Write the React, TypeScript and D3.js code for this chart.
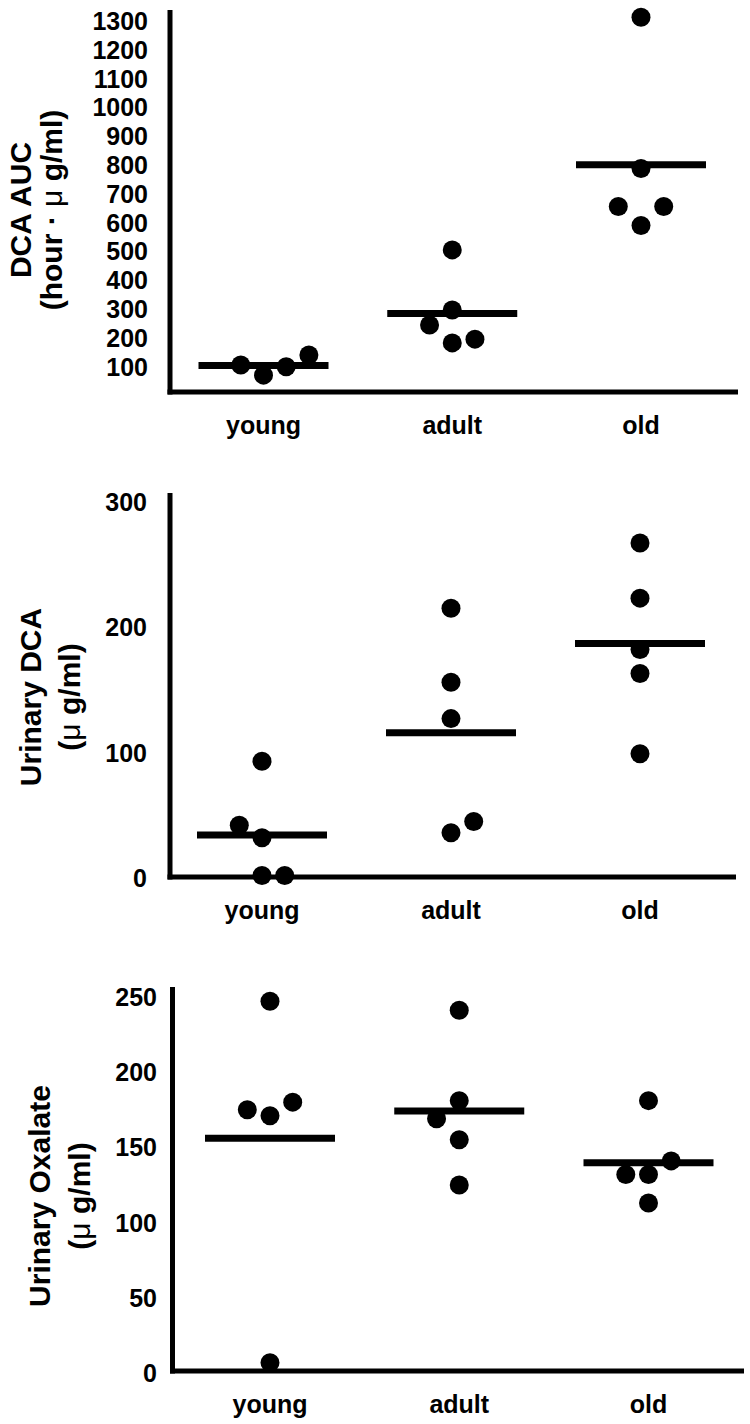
import React from "react";
import * as d3 from "d3";

const groups = ["young", "adult", "old"];

// Panel 1: DCA AUC (hour·µg/ml)
const aucTicks = [100, 200, 300, 400, 500, 600, 700, 800, 900, 1000, 1100, 1200, 1300];
const aucYoung = [105, 70, 99, 140];
const aucAdult = [505, 296, 244, 182, 195];
const aucOld = [1313, 788, 656, 656, 590];
const aucYoungSlot = [-1, 0, 1, 2];
const aucAdultSlot = [0, 0, -1, 0, 1];
const aucOldSlot = [0, 0, -1, 1, 0];

// Panel 2: Urinary DCA (µg/ml)
const dcaTicks = [0, 100, 200, 300];
const dcaYoung = [93, 42, 32, 2, 2];
const dcaAdult = [215, 156, 127, 36, 45];
const dcaOld = [267, 223, 182, 163, 99];
const dcaYoungSlot = [0, -1, 0, 0, 1];
const dcaAdultSlot = [0, 0, 0, 0, 1];
const dcaOldSlot = [0, 0, 0, 0, 0];

// Panel 3: Urinary Oxalate (µg/ml)
const oxTicks = [0, 50, 100, 150, 200, 250];
const oxYoung = [247, 175, 171, 180, 7];
const oxAdult = [241, 181, 169, 155, 125];
const oxOld = [181, 141, 132, 132, 113];
const oxYoungSlot = [0, -1, 0, 1, 0];
const oxAdultSlot = [0, 0, -1, 0, 0];
const oxOldSlot = [0, 1, -1, 0, 0];

const FONT = "'Liberation Sans', Arial, Helvetica, sans-serif";

type Panel = {
  title1: string;
  title2: React.ReactNode;
  ticks: number[];
  values: number[][];
  slots: number[][];
  domain: [number, number];
  range: [number, number];
  axisX: number;
  axisTop: number;
  axisBottom: number;
  axisRight: number;
  tickRight: number;
  centers: [number, number];
  t1x: number;
  t2x: number;
  tcy: number;
};

const mu = <tspan fontWeight="normal">μ</tspan>;

const panels: Panel[] = [
  {
    title1: "DCA AUC",
    title2: <>(hour · {mu} g/ml)</>,
    ticks: aucTicks,
    values: [aucYoung, aucAdult, aucOld],
    slots: [aucYoungSlot, aucAdultSlot, aucOldSlot],
    domain: [100, 1300],
    range: [366.5, 21],
    axisX: 170,
    axisTop: 10,
    axisBottom: 392,
    axisRight: 738,
    tickRight: 148,
    centers: [263.5, 641],
    t1x: 31,
    t2x: 62,
    tcy: 210,
  },
  {
    title1: "Urinary DCA",
    title2: <>({mu} g/ml)</>,
    ticks: dcaTicks,
    values: [dcaYoung, dcaAdult, dcaOld],
    slots: [dcaYoungSlot, dcaAdultSlot, dcaOldSlot],
    domain: [0, 300],
    range: [878, 501.5],
    axisX: 170,
    axisTop: 493,
    axisBottom: 877,
    axisRight: 736,
    tickRight: 147,
    centers: [262, 640],
    t1x: 41,
    t2x: 80,
    tcy: 697,
  },
  {
    title1: "Urinary Oxalate",
    title2: <>({mu} g/ml)</>,
    ticks: oxTicks,
    values: [oxYoung, oxAdult, oxOld],
    slots: [oxYoungSlot, oxAdultSlot, oxOldSlot],
    domain: [0, 250],
    range: [1373.3, 996.7],
    axisX: 172.5,
    axisTop: 987,
    axisBottom: 1371,
    axisRight: 744,
    tickRight: 157,
    centers: [270, 648.5],
    t1x: 50,
    t2x: 90,
    tcy: 1196,
  },
];

const SLOT = 22.7;
const R = 9.5;
const MEAN_HALF = 65;

function PanelView({ p }: { p: Panel }) {
  const y = d3.scaleLinear().domain(p.domain).range(p.range);
  const x = d3.scalePoint<string>().domain(groups).range(p.centers);
  return (
    <g>
      <line x1={p.axisX} x2={p.axisX} y1={p.axisTop} y2={p.axisBottom + 2.5} stroke="#000" strokeWidth={5} />
      <line x1={p.axisX - 2.5} x2={p.axisRight} y1={p.axisBottom} y2={p.axisBottom} stroke="#000" strokeWidth={5} />
      {p.ticks.map((t) => (
        <text
          key={t}
          x={p.tickRight}
          y={y(t)}
          dy="0.36em"
          textAnchor="end"
          fontFamily={FONT}
          fontWeight="bold"
          fontSize={25}
          fill="#000"
        >
          {t}
        </text>
      ))}
      {groups.map((g) => (
        <text
          key={g}
          x={x(g)}
          y={p.axisBottom + 42}
          textAnchor="middle"
          fontFamily={FONT}
          fontWeight="bold"
          fontSize={25}
          fill="#000"
        >
          {g}
        </text>
      ))}
      <text
        transform={`translate(${p.t1x},${p.tcy}) rotate(-90)`}
        textAnchor="middle"
        fontFamily={FONT}
        fontWeight="bold"
        fontSize={30}
        fill="#000"
      >
        {p.title1}
      </text>
      <text
        transform={`translate(${p.t2x},${p.tcy}) rotate(-90)`}
        textAnchor="middle"
        fontFamily={FONT}
        fontWeight="bold"
        fontSize={30}
        fill="#000"
      >
        {p.title2}
      </text>
      {groups.map((g, gi) => {
        const vals = p.values[gi];
        const m = d3.mean(vals) as number;
        const cx = x(g) as number;
        return (
          <g key={g}>
            {vals.map((v, i) => (
              <circle key={i} cx={cx + p.slots[gi][i] * SLOT} cy={y(v)} r={R} fill="#000" />
            ))}
            <line x1={cx - MEAN_HALF} x2={cx + MEAN_HALF} y1={y(m)} y2={y(m)} stroke="#000" strokeWidth={7} />
          </g>
        );
      })}
    </g>
  );
}

export default function App() {
  return (
    <svg
      width={750}
      height={1424}
      viewBox="0 0 750 1424"
      style={{ position: "absolute", left: 0, top: 0, display: "block", background: "#fff" }}
    >
      <rect x={0} y={0} width={750} height={1424} fill="#fff" />
      {panels.map((p, i) => (
        <PanelView key={i} p={p} />
      ))}
    </svg>
  );
}
